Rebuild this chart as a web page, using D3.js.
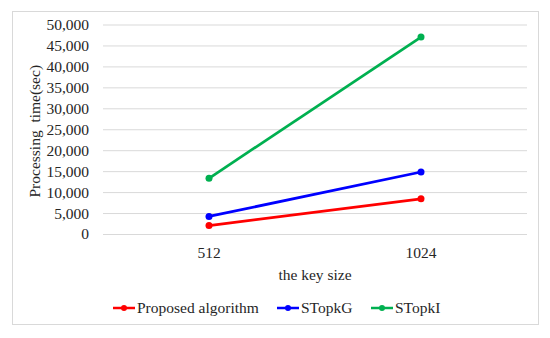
<!DOCTYPE html>
<html>
<head>
<meta charset="utf-8">
<script src="https://cdn.jsdelivr.net/npm/d3@7"></script>
<style>
  body { margin: 0; background: #fff; }
  text { font-family: "Liberation Serif", "Times New Roman", serif; fill: #262626; }
</style>
</head>
<body>
<svg id="chart" width="550" height="338"></svg>
<script>
const keySizes = ["512", "1024"];
const seriesNames = ["Proposed algorithm", "STopkG", "STopkI"];
const proposed = [2000, 8400];
const stopkG = [4200, 14800];
const stopkI = [13300, 47000];
const yTicks = [0, 5000, 10000, 15000, 20000, 25000, 30000, 35000, 40000, 45000, 50000];
const colors = ["#ff0000", "#0000ff", "#00b050"];

const series = [proposed, stopkG, stopkI].map((vals, i) => ({
    name: seriesNames[i],
    color: colors[i],
    values: vals.map((v, j) => ({k: keySizes[j], v}))
}));

const width = 550, height = 338;
const margin = {top: 24.5, right: 23, bottom: 104, left: 103};
const fs = 15.5;

const svg = d3.select("#chart");

// outer frame
svg.append("rect")
    .attr("x", 12.5).attr("y", 11.5)
    .attr("width", 526).attr("height", 313)
    .attr("fill", "#fff")
    .attr("stroke", "#d9d9d9");

const x = d3.scaleBand()
    .domain(keySizes)
    .range([margin.left, width - margin.right]);

const y = d3.scaleLinear()
    .domain([0, 50000])
    .range([height - margin.bottom, margin.top]);

// grid + y labels
const yAxis = g => g
    .attr("transform", `translate(${margin.left},0)`)
    .call(d3.axisLeft(y).tickValues(yTicks).tickFormat(d3.format(",")).tickSize(0).tickPadding(14))
    .call(g => g.select(".domain").remove())
    .call(g => g.selectAll(".tick line").clone()
        .attr("x2", width - margin.right - margin.left)
        .attr("stroke", "#d9d9d9")
        .attr("stroke-width", 1))
    .call(g => g.selectAll(".tick text")
        .attr("font-size", fs)
        .attr("font-family", "Liberation Serif, serif")
        .attr("fill", "#262626"));

svg.append("g").call(yAxis);

const xAxis = g => g
    .attr("transform", `translate(0,${height - margin.bottom})`)
    .call(d3.axisBottom(x).tickSize(0).tickPadding(13))
    .call(g => g.select(".domain").remove())
    .call(g => g.selectAll(".tick text")
        .attr("font-size", fs)
        .attr("font-family", "Liberation Serif, serif")
        .attr("fill", "#262626"));

svg.append("g").call(xAxis);

// axis titles
svg.append("text")
    .attr("transform", `translate(40,${(margin.top + height - margin.bottom) / 2 + 2}) rotate(-90)`)
    .attr("text-anchor", "middle")
    .attr("font-size", fs)
    .style("white-space", "pre")
    .text("Processing  time(sec)");

svg.append("text")
    .attr("x", (margin.left + width - margin.right) / 2)
    .attr("y", 280)
    .attr("text-anchor", "middle")
    .attr("font-size", fs)
    .text("the key size");

const line = d3.line()
    .x(d => x(d.k) + x.bandwidth() / 2)
    .y(d => y(d.v));

const sg = svg.append("g")
    .selectAll("g")
    .data(series)
    .join("g");

sg.append("path")
    .attr("fill", "none")
    .attr("stroke", d => d.color)
    .attr("stroke-width", 2.75)
    .attr("d", d => line(d.values));

sg.selectAll("circle")
    .data(d => d.values.map(p => ({...p, color: d.color})))
    .join("circle")
    .attr("cx", d => x(d.k) + x.bandwidth() / 2)
    .attr("cy", d => y(d.v))
    .attr("r", 3.5)
    .attr("fill", d => d.color);

// legend
const legendX = [113, 277, 371];
const leg = svg.append("g")
    .selectAll("g")
    .data(series)
    .join("g")
    .attr("transform", (d, i) => `translate(${legendX[i]},308)`);

leg.append("line")
    .attr("x1", 0).attr("x2", 22)
    .attr("stroke", d => d.color)
    .attr("stroke-width", 2.5);

leg.append("circle")
    .attr("cx", 11).attr("r", 3)
    .attr("fill", d => d.color);

leg.append("text")
    .attr("x", 24)
    .attr("dy", "0.35em")
    .attr("font-size", fs)
    .text(d => d.name);
</script>
</body>
</html>
